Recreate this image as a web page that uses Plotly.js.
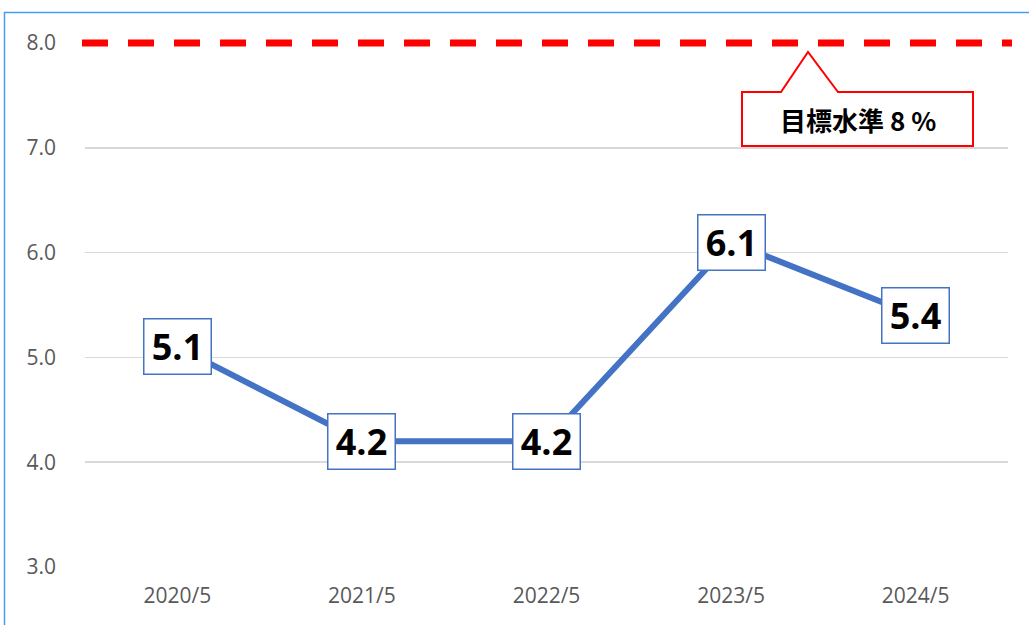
<!DOCTYPE html>
<html>
<head>
<meta charset="utf-8">
<script src="https://cdn.plot.ly/plotly-3.0.1.min.js"></script>
<style>
html,body{margin:0;padding:0;background:#fff;}
#chart{width:1029px;height:625px;}
</style>
</head>
<body>
<div id="chart"></div>
<script>
var categories = ['2020/5', '2021/5', '2022/5', '2023/5', '2024/5'];
var values = [5.1, 4.2, 4.2, 6.1, 5.4];
var targetValue = [8.0];
var targetLabel = ['目標水準 8 %'];
var yTickVals = [3, 4, 5, 6, 7, 8];
var yTickText = ['3.0', '4.0', '5.0', '6.0', '7.0', '8.0'];

var W = 1029, H = 625, L = 85, R = 21, T = 43, B = 58;
var Y0 = 3, Y1 = 8;
var pw = W - L - R, ph = H - T - B;
function px2paperX(px){ return (px - L) / pw; }
function px2paperY(py){ return (H - B - py) / ph; }
function px2y(py){ return Y1 - (py - T) / ph * (Y1 - Y0); }
function val2paperY(v){ return (v - Y0) / (Y1 - Y0); }

var trace = {
  x: categories,
  y: values,
  type: 'scatter',
  mode: 'lines',
  line: {color: '#4472C4', width: 6},
  hoverinfo: 'none'
};

var annotations = values.map(function(v, i){
  return {
    x: categories[i], y: v, xref: 'x', yref: 'y',
    text: v.toFixed(1), showarrow: false,
    font: {family: 'Open Sans, sans-serif', size: 36, color: '#000', weight: 'bold'},
    bgcolor: '#ffffff', bordercolor: '#4472C4', borderwidth: 1.5, borderpad: 0,
    width: 66, height: 54, xanchor: 'center', yanchor: 'middle'
  };
});

annotations.push({
  x: px2paperX(858), y: px2y(119), xref: 'paper', yref: 'y',
  text: '<b>' + targetLabel[0] + '</b>', showarrow: false,
  font: {family: 'Noto Sans CJK JP, sans-serif', size: 26, color: '#000'},
  xanchor: 'center', yanchor: 'middle'
});

var calloutPath = 'M ' + px2paperX(742) + ',' + px2y(92) +
  ' L ' + px2paperX(781) + ',' + px2y(92) +
  ' L ' + px2paperX(808) + ',' + px2y(52) +
  ' L ' + px2paperX(838) + ',' + px2y(92) +
  ' L ' + px2paperX(973) + ',' + px2y(92) +
  ' L ' + px2paperX(973) + ',' + px2y(146) +
  ' L ' + px2paperX(742) + ',' + px2y(146) + ' Z';

var borderPath = 'M ' + px2paperX(4.5) + ',' + px2paperY(640) +
  ' L ' + px2paperX(4.5) + ',' + px2paperY(12.5) +
  ' L ' + px2paperX(1100) + ',' + px2paperY(12.5);

var shapes = [
  {type: 'line', xref: 'paper', yref: 'paper', x0: px2paperX(82), x1: px2paperX(1012),
   y0: val2paperY(targetValue[0]), y1: val2paperY(targetValue[0]),
   line: {color: '#FF0000', width: 7, dash: '26px,20px'}},
  {type: 'path', xref: 'paper', yref: 'y', path: calloutPath,
   fillcolor: '#ffffff', line: {color: '#FF0000', width: 2}},
  {type: 'path', xref: 'paper', yref: 'paper', path: borderPath,
   line: {color: '#4A9BF5', width: 1.5}, fillcolor: 'rgba(0,0,0,0)'}
];

var layout = {
  width: W, height: H,
  margin: {l: L, r: R, t: T, b: B, pad: 0},
  paper_bgcolor: '#ffffff', plot_bgcolor: '#ffffff',
  showlegend: false,
  xaxis: {
    type: 'category', range: [-0.5, 4.5], showgrid: false, zeroline: false,
    showline: false, ticks: '', ticklabelstandoff: 14,
    tickfont: {family: 'Open Sans, sans-serif', size: 21, color: '#595959'},
    fixedrange: true
  },
  yaxis: {
    range: [Y0, Y1], tickvals: yTickVals, ticktext: yTickText,
    showgrid: true, gridcolor: '#D9D9D9', gridwidth: 1.5, zeroline: false,
    showline: false, ticks: '', ticklabelstandoff: 28,
    tickfont: {family: 'Open Sans, sans-serif', size: 21, color: '#595959'},
    fixedrange: true
  },
  annotations: annotations,
  shapes: shapes
};

Plotly.newPlot('chart', [trace], layout, {displayModeBar: false, staticPlot: true});
</script>
</body>
</html>
